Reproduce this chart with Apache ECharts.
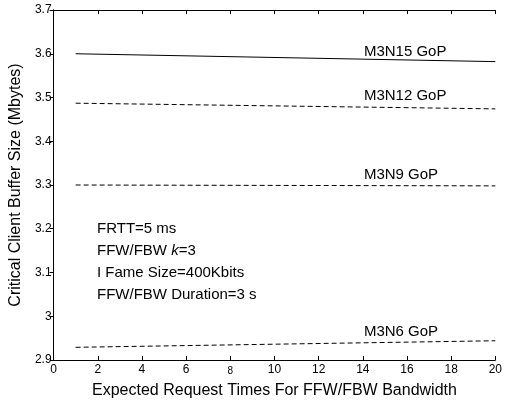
<!DOCTYPE html>
<html><head><meta charset="utf-8">
<script src="https://cdn.jsdelivr.net/npm/echarts@6/dist/echarts.min.js"></script>
<style>html,body{margin:0;padding:0;background:#fff}#c{width:505px;height:404px}</style>
</head><body><div id="c"></div>
<script>
const xValues = [1, 20];
const m3n15 = [3.600, 3.582];
const m3n12 = [3.487, 3.474];
const m3n9 = [3.300, 3.298];
const m3n6 = [2.929, 2.944];
const seriesNames = ['M3N15 GoP', 'M3N12 GoP', 'M3N9 GoP', 'M3N6 GoP'];
const labelPos = [[14.05, 3.605], [14.05, 3.503], [14.05, 3.324], [14.05, 2.965]];
const notes = ['FRTT=5 ms', 'FFW/FBW {i|k}=3', 'I Fame Size=400Kbits', 'FFW/FBW Duration=3 s'];
const xLabel = 'Expected Request Times For FFW/FBW Bandwidth';
const yLabel = 'Critical Client Buffer Size (Mbytes)';

const font = 'Liberation Sans, Arial, sans-serif';
const chart = echarts.init(document.getElementById('c'), null, {renderer: 'canvas'});
const allData = [m3n15, m3n12, m3n9, m3n6];
const styles = ['solid', [5, 3], [5, 3], [5, 3]];
const series = allData.map((vals, i) => ({
  type: 'line',
  name: seriesNames[i],
  data: xValues.map((x, j) => [x, vals[j]]),
  symbol: 'none',
  lineStyle: {color: '#000', width: 1, type: styles[i]},
  silent: true,
  markPoint: {
    symbol: 'circle', symbolSize: 0,
    data: [{coord: labelPos[i], value: seriesNames[i]}],
    label: {show: true, formatter: seriesNames[i], position: 'right', distance: 0,
      color: '#000', fontSize: 15, fontFamily: font}
  }
}));
const axisLine = {show: true, lineStyle: {color: '#000', width: 1}};
chart.setOption({
  animation: false,
  grid: {left: 52, right: 8, top: 10, bottom: 42},
  xAxis: [{
    type: 'value', min: 0, max: 20, interval: 2,
    axisLine: axisLine,
    axisTick: {inside: true, length: 4, lineStyle: {color: '#000'}},
    splitLine: {show: false},
    axisLabel: {color: '#000', fontSize: 12, fontFamily: font, margin: 4,
      formatter: v => v === 8 ? '{s|8}' : String(v),
      rich: {s: {fontSize: 10, fontFamily: font, color: '#000', padding: [2, 0, 0, 0]}}},
    name: xLabel, nameLocation: 'middle', nameGap: 23,
    nameTextStyle: {color: '#000', fontSize: 16, fontFamily: font}
  }, {
    type: 'value', min: 0, max: 20, interval: 2, position: 'top',
    axisLine: axisLine,
    axisTick: {inside: true, length: 4, lineStyle: {color: '#000'}},
    axisLabel: {show: false}, splitLine: {show: false}
  }],
  yAxis: [{
    type: 'value', min: 2.9, max: 3.7, interval: 0.1,
    axisLine: axisLine,
    axisTick: {inside: false, length: 3, lineStyle: {color: '#000'}},
    splitLine: {show: false},
    axisLabel: {color: '#000', fontSize: 12, fontFamily: font, margin: 2,
      formatter: v => { const r = Math.round(v * 10) / 10; return r === 3 ? '3' : r.toFixed(1); }},
    name: yLabel, nameLocation: 'middle', nameGap: 25,
    nameTextStyle: {color: '#000', fontSize: 16, fontFamily: font}
  }, {
    type: 'value', min: 2.9, max: 3.7, interval: 0.1, position: 'right',
    axisLine: axisLine,
    axisTick: {inside: true, length: 4, lineStyle: {color: '#000'}},
    axisLabel: {show: false}, splitLine: {show: false}
  }],
  series: series,
  graphic: notes.map((t, i) => ({
    type: 'text', left: 97, top: 221 + i * 22.2,
    style: {text: t, fill: '#000', font: '15px ' + font,
      rich: {i: {fontStyle: 'italic', fontSize: 15, fontFamily: font, fill: '#000'}}}
  }))
});
</script></body></html>
